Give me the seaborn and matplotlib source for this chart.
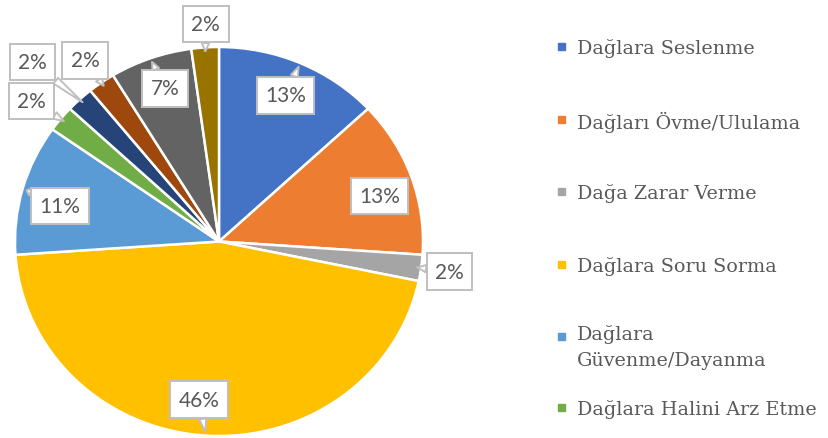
import matplotlib
matplotlib.use("Agg")
import matplotlib.pyplot as plt
import numpy as np
import seaborn as sns
from matplotlib.patches import Rectangle

# counts per category (clockwise from 12 o'clock)
counts = [6, 6, 1, 21, 5, 1, 1, 1, 3, 1]
colors = ["#4472C4", "#ED7D31", "#A5A5A5", "#FFC000", "#5B9BD5",
          "#70AD47", "#264478", "#9E480E", "#636363", "#997300"]
# only the first six entries are visible in the legend
legend_labels = ["Dağlara Seslenme", "Dağları Övme/Ululama", "Dağa Zarar Verme",
                 "Dağlara Soru Sorma", "Dağlara\nGüvenme/Dayanma", "Dağlara Halini Arz Etme"]

# label placement (radius in pie units, small angle tweak in degrees)
label_radius = [0.82, 0.82, 1.14, 0.82, 0.80, 1.17, 1.30, 1.14, 0.83, 1.12]
label_shift = [0, -3, 0, -3, 2.5, 1, 1.7, 0, -1, -0.6]
legend_y = [47, 120, 192, 265, 337, 408]

sns.set_style("white")
plt.rcParams["font.family"] = ["DejaVu Serif", "DejaVu Sans"]

W, H = 829, 439
fig = plt.figure(figsize=(W / 100, H / 100), dpi=100)
ax = fig.add_axes([15 / W, 2 / H, 408 / W, 389 / H])

wedges, _ = ax.pie(counts, colors=colors, startangle=90, counterclock=False,
                   wedgeprops=dict(edgecolor="white", linewidth=1.8))
ax.set_aspect("auto")
ax.set_xlim(-1, 1)
ax.set_ylim(-1, 1)
ax.axis("off")

pct = np.array(counts) / np.sum(counts) * 100
for i, w in enumerate(wedges):
    mid = (w.theta1 + w.theta2) / 2
    a = np.deg2rad(mid + label_shift[i])
    r = label_radius[i]
    tip = np.deg2rad(mid)
    ax.annotate(f"{pct[i]:.0f}%", xy=(0.98 * np.cos(tip), 0.98 * np.sin(tip)),
                xytext=(r * np.cos(a), r * np.sin(a)), ha="center", va="center",
                fontsize=15, color="#595959", family="Lato",
                bbox=dict(boxstyle="square,pad=0.4", fc="white", ec="#BFBFBF", lw=1.4),
                arrowprops=dict(arrowstyle="wedge,tail_width=0.35", fc="white",
                                ec="#BFBFBF", lw=1.4, shrinkA=0, shrinkB=0),
                annotation_clip=False)

# legend drawn by hand to follow the original spacing
for i, lab in enumerate(legend_labels):
    y = 1 - legend_y[i] / H
    fig.patches.append(Rectangle((558 / W, y - 3.5 / H), 7 / W, 7 / H,
                                 transform=fig.transFigure, color=colors[i]))
    if "\n" in lab:
        fig.text(577 / W, y + 12 / H, lab, ha="left", va="top",
                 fontsize=13.8, color="#595959", linespacing=1.55)
    else:
        fig.text(577 / W, y, lab, ha="left", va="center_baseline",
                 fontsize=13.8, color="#595959")

fig.savefig("out.png", dpi=100)
